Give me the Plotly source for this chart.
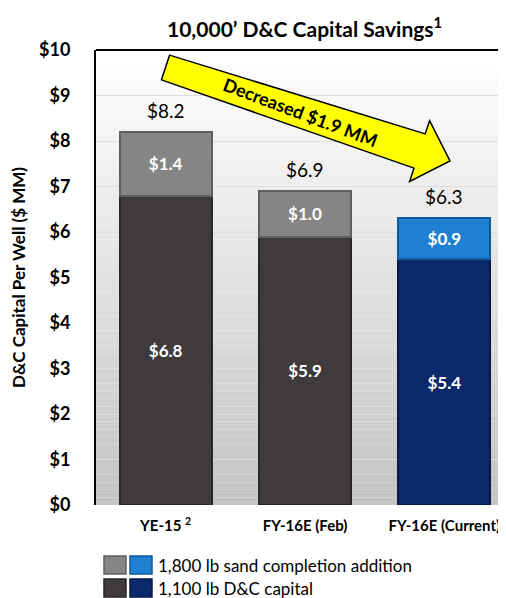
import math
import plotly.graph_objects as go

# ---- data ----
categories = ["YE-15", "FY-16E (Feb)", "FY-16E (Current)"]
category_labels = ["YE-15 <sup>2</sup>", "FY-16E (Feb)", "FY-16E (Current)"]
base_capital = [6.8, 5.9, 5.4]          # 1,100 lb D&C capital
sand_addition = [1.4, 1.0, 0.9]         # 1,800 lb sand completion addition
totals = [8.2, 6.9, 6.3]
series_names = ["1,800 lb sand completion addition", "1,100 lb D&C capital"]
y_ticks = [0, 1, 2, 3, 4, 5, 6, 7, 8, 9, 10]
y_tick_text = ["$%d" % v for v in y_ticks]
arrow_text = "Decreased $1.9 MM"
title_text = "10,000\u2019 D&C Capital Savings<sup>1</sup>"
y_title = "D&C Capital Per Well ($ MM)"

# ---- styles ----
FONT = "Lato"
W, H = 506, 598
ML, MR, MT, MB = 88, 0, 42, 101
PW, PH = W - ML - MR, H - MT - MB

base_colors = ["#3f3b3c", "#3f3b3c", "#0b2a6c"]
base_lines = ["#2a2728", "#2a2728", "#061a48"]
top_colors = ["#858585", "#858585", "#1f80d2"]
top_lines = ["#5f5f5f", "#5f5f5f", "#0f5a9e"]


def px2paper(px, py):
    return (px - ML) / PW, (MT + PH - py) / PH


fig = go.Figure()
fig.add_trace(go.Bar(
    x=categories, y=base_capital, name=series_names[1],
    marker=dict(color=base_colors, line=dict(color=base_lines, width=2)),
    text=["$%.1f" % v for v in base_capital], textposition="inside",
    insidetextanchor="middle",
    textfont=dict(family=FONT, size=17, color="white", weight="bold"),
    showlegend=False,
))
fig.add_trace(go.Bar(
    x=categories, y=sand_addition, name=series_names[0],
    marker=dict(color=top_colors, line=dict(color=top_lines, width=2)),
    text=["$%.1f" % v for v in sand_addition], textposition="inside",
    insidetextanchor="middle",
    textfont=dict(family=FONT, size=17, color="white", weight="bold"),
    showlegend=False,
))

shapes = []
# background vertical gradient (white top -> grey bottom)
n = 60
for i in range(n):
    y0 = 10 * i / n
    y1 = 10 * (i + 1) / n
    t = (i + 0.5) / n
    g = int(round(196 + (255 - 196) * t))
    shapes.append(dict(type="rect", xref="paper", yref="y", x0=0, x1=1, y0=y0, y1=y1,
                       fillcolor="rgb(%d,%d,%d)" % (g, g, g), line=dict(width=0), layer="below"))
# top frame line
shapes.append(dict(type="line", xref="paper", yref="paper", x0=0, x1=1, y0=1, y1=1,
                   line=dict(color="black", width=2)))

# yellow arrow
tail = (157.5, 59.5)
tip = (442.0, 153.0)
dx, dy = tip[0] - tail[0], tip[1] - tail[1]
L = math.hypot(dx, dy)
ux, uy = dx / L, dy / L
nx, ny = -uy, ux
head_len, head_half, body_tail, body_head = 32, 32, 13, 18
hx, hy = tip[0] - head_len * ux, tip[1] - head_len * uy
pts = [
    (tail[0] - body_tail * nx, tail[1] - body_tail * ny),
    (hx - body_head * nx, hy - body_head * ny),
    (hx - head_half * nx, hy - head_half * ny),
    tip,
    (hx + head_half * nx, hy + head_half * ny),
    (hx + body_head * nx, hy + body_head * ny),
    (tail[0] + body_tail * nx, tail[1] + body_tail * ny),
]
ppts = [px2paper(x, y) for x, y in pts]
path = "M " + " L ".join("%.4f,%.4f" % p for p in ppts) + " Z"
shapes.append(dict(type="path", xref="paper", yref="paper", path=path,
                   fillcolor="#ffff00", line=dict(color="black", width=1.5), layer="above"))

# legend swatches
sw_rows = [557, 580]
sw_x = [(96, 118), (122, 144)]
legend_colors = [[top_colors[0], top_colors[2]], [base_colors[0], base_colors[2]]]
legend_lines = [[top_lines[0], top_lines[2]], [base_lines[0], base_lines[2]]]
annotations = []
for r, yc in enumerate(sw_rows):
    for c, (x0, x1) in enumerate(sw_x):
        a = px2paper(x0, yc - 9)
        b = px2paper(x1, yc + 9)
        shapes.append(dict(type="rect", xref="paper", yref="paper", x0=a[0], x1=b[0], y0=b[1], y1=a[1],
                           fillcolor=legend_colors[r][c], line=dict(color=legend_lines[r][c], width=1.5)))
    lx, ly = px2paper(148, yc)
    annotations.append(dict(xref="paper", yref="paper", x=lx, y=ly, xanchor="left", yanchor="middle",
                            text=series_names[r], showarrow=False,
                            font=dict(family=FONT, size=17, color="black")))

# totals above bars
for cat, tot in zip(categories, totals):
    annotations.append(dict(x=cat, y=tot, xref="x", yref="y", text="$%.1f" % tot, showarrow=False,
                            yanchor="bottom", yshift=8, font=dict(family=FONT, size=19, color="black")))

# arrow text
cx, cy = px2paper(292, 104)
ang = math.degrees(math.atan2(dy, dx)) + 2.5
annotations.append(dict(xref="paper", yref="paper", x=cx, y=cy, text="<b>" + arrow_text + "</b>",
                        showarrow=False, textangle=ang, xanchor="center", yanchor="middle",
                        font=dict(family=FONT, size=18, color="black")))

# title
tx, ty = px2paper(296, 19)
annotations.append(dict(xref="paper", yref="paper", x=tx, y=ty, text="<b>" + title_text + "</b>",
                        showarrow=False, xanchor="center", yanchor="middle",
                        font=dict(family=FONT, size=21, color="black")))

fig.update_layout(
    width=W, height=H,
    margin=dict(l=ML, r=MR, t=MT, b=MB),
    paper_bgcolor="white", plot_bgcolor="white",
    barmode="stack", bargap=0.34,
    shapes=shapes, annotations=annotations,
    showlegend=False,
    font=dict(family=FONT, color="black"),
)
fig.update_xaxes(
    type="category", tickvals=categories, ticktext=category_labels,
    tickfont=dict(family=FONT, size=15, weight="bold"),
    showgrid=False, showline=False, ticks="", ticklabelstandoff=10,
    range=[-0.5, 2.5],
)
fig.update_yaxes(
    range=[0, 10], tickvals=y_ticks, ticktext=y_tick_text,
    tickfont=dict(family=FONT, size=18, weight="bold"),
    showgrid=True, gridcolor="#dedede", gridwidth=1,
    showline=True, linecolor="black", linewidth=2,
    zeroline=False, ticks="", ticklabelstandoff=20,
    title=dict(text="<b>" + y_title + "</b>", font=dict(family=FONT, size=17), standoff=10),
)

fig.write_html("out.html")
